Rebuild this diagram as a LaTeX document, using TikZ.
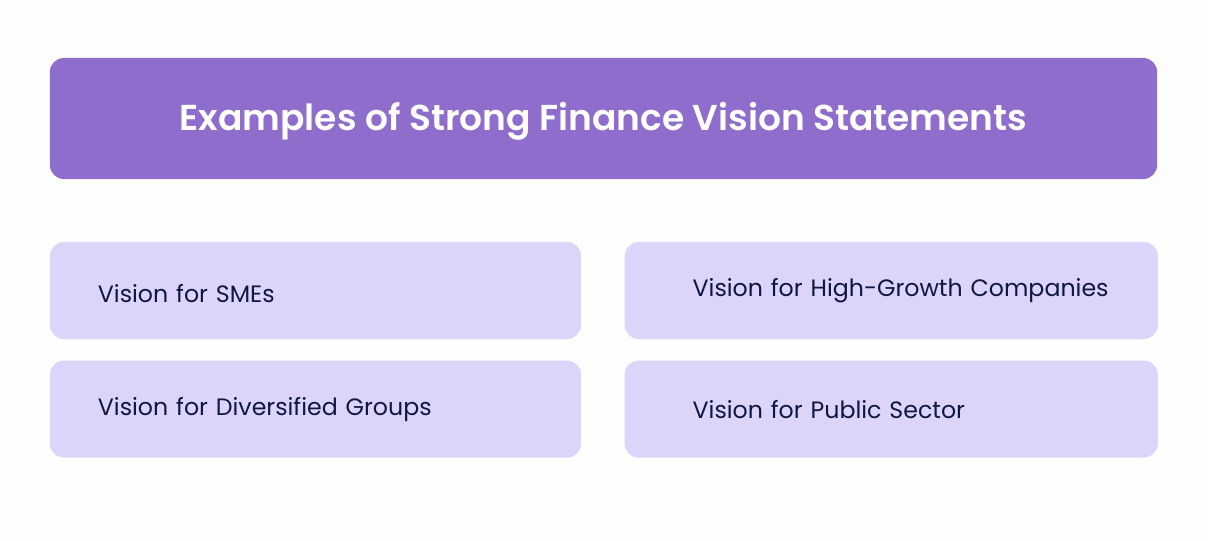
\documentclass[tikz,border=0pt]{standalone}
\usepackage{fontspec}
\setmainfont{Poppins}[BoldFont={Poppins SemiBold}]
\usetikzlibrary{positioning}

\definecolor{titlepurple}{HTML}{8E6DCD}
\definecolor{cardlilac}{HTML}{DDD4FA}
\definecolor{inknavy}{HTML}{0F1745}
\definecolor{paper}{HTML}{FDFDFD}

\begin{document}
\begin{tikzpicture}[x=0.025cm,y=-0.025cm,
    titlebox/.style={fill=titlepurple,rounded corners=0.35cm,inner sep=0pt,
      minimum width=27.675cm,minimum height=3.025cm,text height=0.78cm,text depth=0.2cm,
      text=white,font=\bfseries\fontsize{25.6}{30}\selectfont},
    cardbase/.style={fill=cardlilac,rounded corners=0.35cm,inner sep=0pt,
      minimum height=2.425cm,align=left,
      text=inknavy,font=\fontsize{16.85}{20}\selectfont},
    card/.style={cardbase,text width=13.275cm,
      execute at begin node={\hspace*{1.2cm}}},
    cardright/.style={cardbase,text width=13.325cm,
      execute at begin node={\hspace*{1.7cm}}}]
      \path[fill=paper] (0,0) rectangle (1208,540);
      \useasboundingbox (0,0) rectangle (1208,540);
      % heading
      \node[titlebox] (heading) at (603.5,118.5) {Examples of Strong Finance Vision Statements};
      % the four cards
      \node[card,text height=0.62cm] (smes) at (315.5,290.5) {Vision for SMEs};
      \node[cardright,right=1.075cm of smes] (growth) {Vision for High-Growth Companies};
      \node[card,below=0.525cm of smes] (groups) {Vision for Diversified Groups};
      \node[cardright,below=0.525cm of growth] (public) {Vision for Public Sector};
\end{tikzpicture}
\end{document}
